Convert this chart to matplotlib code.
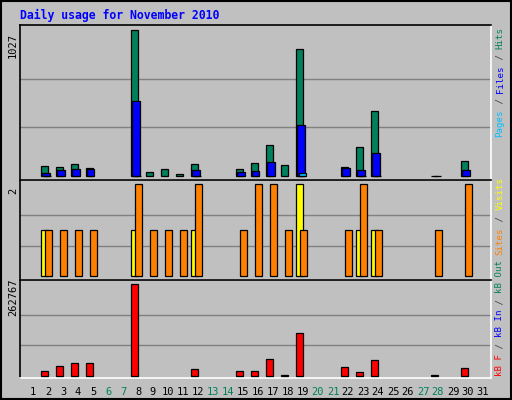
import numpy as np
import matplotlib
matplotlib.use("Agg")
import matplotlib.pyplot as plt

# daily values, November 2010
days = list(range(1, 32))
weekend = [6, 7, 13, 14, 20, 21, 27, 28]
hits = {2: 70, 3: 63, 4: 84, 5: 56, 8: 1027, 9: 28, 10: 49, 11: 14, 12: 84,
        15: 49, 16: 91, 17: 217, 18: 77, 19: 894, 22: 63, 23: 203, 24: 455,
        28: 2, 30: 105}
files = {2: 21, 3: 42, 4: 49, 5: 49, 8: 525, 12: 42, 15: 28, 16: 35,
         17: 98, 19: 357, 22: 56, 23: 42, 24: 161, 30: 42}
pages = {2: 3, 8: 3, 12: 3, 19: 21, 23: 3, 24: 3, 28: 3}
visits = {2: 1, 8: 1, 12: 1, 19: 2, 23: 1, 24: 1}
sites = {2: 1, 3: 1, 4: 1, 5: 1, 8: 2, 9: 1, 10: 1, 11: 1, 12: 2, 15: 1,
         16: 2, 17: 2, 18: 1, 19: 1, 22: 1, 23: 2, 24: 1, 28: 1, 30: 2}
kbytes = {2: 12400, 3: 26800, 4: 35400, 5: 35400, 8: 262767, 12: 18200,
          15: 12400, 16: 12400, 17: 46900, 18: 800, 19: 121700, 22: 23900,
          23: 9600, 24: 44000, 28: 800, 30: 21000}

W, H = 512, 400
BG = "#C0C0C0"
fig = plt.figure(figsize=(W / 100, H / 100), dpi=100, facecolor=BG)
MONO = "DejaVu Sans Mono"

def ax_px(x0, y0, x1, y1):
    return fig.add_axes([x0 / W, 1 - y1 / H, (x1 - x0) / W, (y1 - y0) / H])

def style(ax, ymax, lo):
    ax.set_facecolor(BG)
    ax.set_xlim(1 - 13 / 15, 31 + 8 / 15)
    ax.set_ylim(lo, ymax)
    ax.set_xticks([]); ax.set_yticks([])
    for s in ("top", "left"):
        ax.spines[s].set_color("black")
    for s in ("bottom", "right"):
        ax.spines[s].set_color("white")
    for sp in ax.spines.values():
        sp.set_linewidth(1.2)

def bars(ax, d, off, w, color, lw=0.9):
    xs = np.array(list(d.keys()), float)
    ax.bar(xs + off, list(d.values()), width=w, align="edge", color=color,
           edgecolor="black", linewidth=lw, zorder=3)

# top panel
ax1 = ax_px(20, 25, 491, 180)
style(ax1, 1027 * 151.5 / 147, -1027 * 3.5 / 147)
for g in (1027 / 3, 2 * 1027 / 3):
    ax1.axhline(g, color="#808080", lw=1, zorder=1)
bars(ax1, hits, -0.49, 0.46, "#00805C")
bars(ax1, files, -0.38, 0.48, "#0000FF")
bars(ax1, pages, -0.29, 0.5, "#00C0FF")

# middle panel
ax2 = ax_px(20, 180, 491, 280)
style(ax2, 2 * 96.3 / 92, -2 * 3.7 / 92)
for g in (2 / 3, 4 / 3):
    ax2.axhline(g, color="#808080", lw=1, zorder=1)
bars(ax2, visits, -0.49, 0.5, "#FFFF00")
bars(ax2, sites, -0.2, 0.46, "#FF8000")

# bottom panel
ax3 = ax_px(20, 280, 491, 378)
style(ax3, 262767 * 95.7 / 91.4, -262767 * 2.3 / 91.4)
for g in (262767 / 3, 2 * 262767 / 3):
    ax3.axhline(g, color="#808080", lw=1, zorder=1)
bars(ax3, kbytes, -0.49, 0.46, "#FF0000")

# x labels
for d in days:
    ax3.text(d, -0.14, str(d), transform=ax3.get_xaxis_transform(),
             ha="center", va="center", fontsize=7.5, family=MONO,
             color="#00805C" if d in weekend else "black")

fig.text(20 / W, 1 - 15 / H, "Daily usage for November 2010", color="#0000FF",
         fontsize=8.3, family=MONO, weight="bold", va="center")

# left max labels
for y, s in ((45, "1027"), (191, "2"), (297, "262767")):
    fig.text(13 / W, 1 - y / H, s, rotation=90, ha="center", va="center",
             fontsize=7.5, family=MONO)

# right legends, read bottom to top
FS = 6.6
STEP = 0.602 * FS * 100 / 72

def vlegend(ybottom, parts):
    y = ybottom
    for s, c in parts:
        fig.text(500 / W, 1 - y / H, s, rotation=90, ha="center", va="bottom",
                 fontsize=FS, family=MONO, color=c)
        y -= STEP * len(s)

vlegend(137, [("Pages", "#00C0FF"), (" / ", "#404040"), ("Files", "#0000FF"),
              (" / ", "#404040"), ("Hits", "#00805C")])
vlegend(376, [("kB F", "#FF0000"), (" / ", "#404040"), ("kB In", "#0000FF"),
              (" / ", "#404040"), ("kB Out", "#00805C"), (" ", "black"),
              ("Sites", "#FF8000"), (" / ", "#404040"), ("Visits", "#FFFF00")])

# outer frame
fig.patches.append(plt.Rectangle((0.002, 0.002), 0.996, 0.996, transform=fig.transFigure,
                                 fill=False, edgecolor="black", lw=1.5))
fig.savefig("out.png", dpi=100, facecolor=BG)
